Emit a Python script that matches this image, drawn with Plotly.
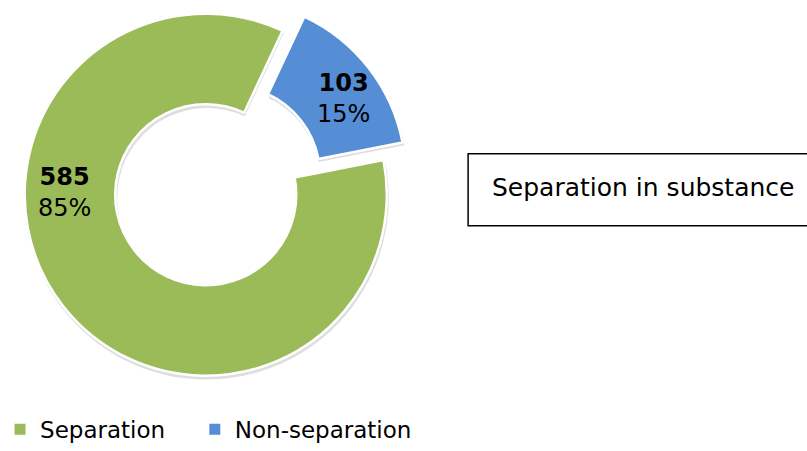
import plotly.graph_objects as go

# ---- data ----
labels = ["Separation", "Non-separation"]
values = [585, 103]
colors = ["#9BBB59", "#558ED5"]
title_text = "Separation in substance"

W, H = 807, 451
FONT = "DejaVu Sans"
total = sum(values)
pcts = [round(v / total * 100) for v in values]
SHADOW = "rgba(0,0,0,0.13)"
CLEAR = "rgba(0,0,0,0)"

def px_dom(cx, cy, r):
    x = [(cx - r) / W, (cx + r) / W]
    y = [(H - (cy + r)) / H, (H - (cy - r)) / H]
    x = [max(0, min(1, v)) for v in x]
    y = [max(0, min(1, v)) for v in y]
    return dict(x=x, y=y)

def ring(cols, widths, dom, hole):
    return go.Pie(
        labels=labels, values=values, sort=False, direction="clockwise", rotation=79,
        hole=hole, textinfo="none", hoverinfo="label+value+percent", showlegend=False,
        marker=dict(colors=cols, line=dict(color="white", width=widths)),
        domain=dom,
    )

fig = go.Figure()
# soft drop shadows
fig.add_trace(ring([SHADOW, CLEAR], [0, 0], px_dom(203, 203, 187), 92 / 187))
fig.add_trace(ring([CLEAR, SHADOW], [0, 0], px_dom(227, 184, 182), 92 / 182))
# main (green) ring, exploded slice left transparent
fig.add_trace(ring([colors[0], CLEAR], [2.5, 0], px_dom(202, 200, 186), 93 / 186))
# exploded (blue) slice
fig.add_trace(ring([CLEAR, colors[1]], [0, 2.5], px_dom(226, 181, 181), 93 / 181))

# legend entries (one legend per entry to control spacing)
leg_x = [-5, 191]
for i, (lab, col) in enumerate(zip(labels, colors)):
    fig.add_trace(go.Scatter(x=[None], y=[None], mode="markers", name=lab,
                             legend="legend" if i == 0 else f"legend{i + 1}",
                             marker=dict(symbol="square", size=11, color=col)))

# data labels
label_pos = [(60, 198), (341, 101)]
for (x, y), v, p in zip(label_pos, values, pcts):
    fig.add_annotation(x=x / W, y=1 - y / H, xref="paper", yref="paper",
                       xanchor="center", yanchor="middle",
                       text=f"<b>{v}</b><br>{p}%", showarrow=False,
                       font=dict(family=FONT, size=24, color="black"), align="center")

# text box
fig.add_shape(type="rect", xref="paper", yref="paper",
              x0=466 / W, x1=1.05, y0=1 - 232 / H, y1=1 - 158 / H,
              line=dict(color="black", width=1.5), fillcolor="white")
fig.add_annotation(x=488 / W, y=1 - 193 / H, xref="paper", yref="paper",
                   text=title_text, showarrow=False, xanchor="left", yanchor="middle",
                   font=dict(family=FONT, size=25, color="black"))

leg_common = dict(orientation="h", y=1 - 441 / H, xanchor="left", yanchor="middle",
                  font=dict(family=FONT, size=23, color="black"),
                  bgcolor="rgba(0,0,0,0)", itemclick=False, itemdoubleclick=False)

fig.update_layout(
    width=W, height=H, autosize=False,
    margin=dict(l=0, r=0, t=0, b=0, pad=0),
    paper_bgcolor="white", plot_bgcolor="white",
    xaxis=dict(visible=False), yaxis=dict(visible=False),
    showlegend=True,
    legend=dict(x=leg_x[0] / W, **leg_common),
    legend2=dict(x=leg_x[1] / W, **leg_common),
)

fig.write_html("out.html", config={"displayModeBar": False},
               post_script="document.body.style.margin='0px';document.body.style.overflow='hidden';")
